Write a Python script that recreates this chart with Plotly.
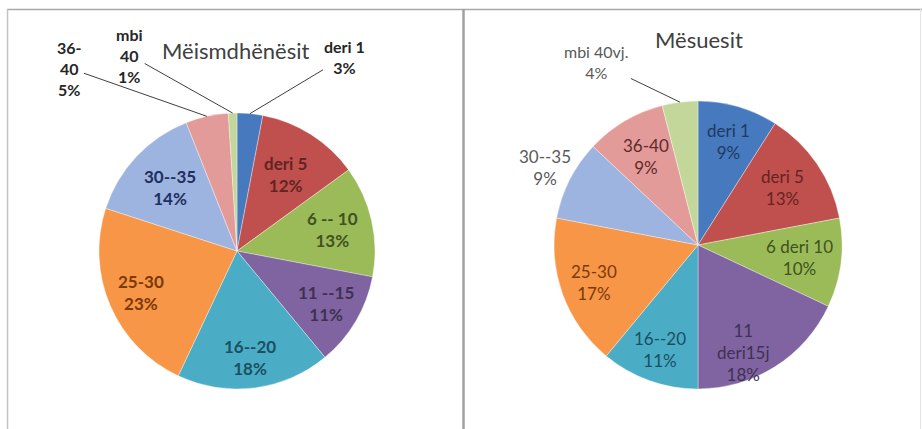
import math
import plotly.graph_objects as go

W, H = 922, 429

# ---------------- data ----------------
left_title = "Mëismdhënësit"
left_categories = ["deri 1", "deri 5", "6 -- 10", "11 --15", "16--20", "25-30", "30--35", "36-40", "mbi 40"]
left_display = ["deri 1", "deri 5", "6 -- 10", "11 --15", "16--20", "25-30", "30--35", "36-<br>40", "mbi<br>40"]
left_values = [3, 12, 13, 11, 18, 23, 14, 5, 1]

right_title = "Mësuesit"
right_categories = ["deri 1", "deri 5", "6 deri 10", "11 deri15j", "16--20", "25-30", "30--35", "36-40", "mbi 40vj."]
right_display = ["deri 1", "deri 5", "6 deri 10", "11<br>deri15j", "16--20", "25-30", "30--35", "36-40", "mbi 40vj."]
right_values = [9, 13, 10, 18, 11, 17, 9, 9, 4]

# ---------------- style ----------------
slice_colors = ["#4679BE", "#C0504D", "#9BBB59", "#8064A2", "#4BACC6",
                "#F79646", "#9DB4E0", "#E29B99", "#C4D79B"]
label_colors = ["#1F3A63", "#632423", "#3F5220", "#3F3151", "#1B5060",
                "#7A3A08", "#1F2F5F", "#5E2A29", "#3F5220"]
FONT = "Lato, Open Sans, sans-serif"

# geometry (pixels): center x, center y (from top), radius
L_GEOM = (237, 251, 138)
R_GEOM = (698, 245, 144)

# label radial fraction (None -> outside with leader line)
left_frac = [None, 0.66, 0.71, 0.75, 0.78, 0.76, 0.67, None, None]
right_frac = [0.75, 0.71, 0.71, 0.80, 0.77, 0.77, 1.19, 0.71, None]
# small label nudges (px)
left_nudge = {}
right_nudge = {3: (-16, 10)}
# outside label offsets (px) from slice edge point to text
left_lead = {0: (95, -57), 7: (-137, -48), 8: (-103, -58)}
right_lead = {8: (-83, -40)}
outside_color_left = "#262626"
outside_color_right = "#595959"


def domain(geom):
    cx, cy, r = geom
    return dict(x=[(cx - r) / W, (cx + r) / W],
                y=[(H - cy - r) / H, (H - cy + r) / H])


fig = go.Figure()
for vals, cats, geom in [(left_values, left_categories, L_GEOM),
                         (right_values, right_categories, R_GEOM)]:
    fig.add_trace(go.Pie(
        labels=cats, values=vals, sort=False, direction="clockwise", rotation=0,
        marker=dict(colors=slice_colors, line=dict(width=0.6, color="rgba(255,255,255,0.6)")),
        textinfo="none", hoverinfo="label+percent", showlegend=False,
        domain=domain(geom),
    ))

annotations = []


def add_labels(vals, disp, geom, fracs, nudges, leads, bold, out_color):
    cx, cy, r = geom
    total = sum(vals)
    cum = 0
    for i, v in enumerate(vals):
        theta = 2 * math.pi * (cum + v / 2) / total
        cum += v
        pct = round(100 * v / total)
        txt = f"{disp[i]}<br>{pct}%"
        if bold:
            txt = f"<b>{txt}</b>"
        if fracs[i] is not None:
            f = fracs[i]
            dx, dy = nudges.get(i, (0, 0))
            px = cx + f * r * math.sin(theta) + dx
            py = cy - f * r * math.cos(theta) + dy
            color = label_colors[i] if f <= 1 else out_color
            annotations.append(dict(
                x=px / W, y=(H - py) / H, xref="paper", yref="paper",
                xanchor="center", yanchor="middle",
                text=txt, showarrow=False, align="center",
                font=dict(family=FONT, size=17, color=color)))
        else:
            ex = cx + r * math.sin(theta)
            ey = cy - r * math.cos(theta)
            ax, ay = leads[i]
            annotations.append(dict(
                x=ex / W, y=(H - ey) / H, xref="paper", yref="paper",
                xanchor="center", yanchor="middle",
                text=txt, showarrow=True, arrowhead=0, arrowwidth=1,
                arrowcolor="#404040", ax=ax, ay=ay, standoff=0,
                align="center",
                font=dict(family=FONT, size=16, color=out_color)))


add_labels(left_values, left_display, L_GEOM, left_frac, left_nudge, left_lead, True, outside_color_left)
add_labels(right_values, right_display, R_GEOM, right_frac, right_nudge, right_lead, False, outside_color_right)

annotations.append(dict(x=236 / W, y=(H - 50) / H, xref="paper", yref="paper",
                        xanchor="center", yanchor="middle",
                        text=left_title, showarrow=False,
                        font=dict(family=FONT, size=22, color="#404040")))
annotations.append(dict(x=699 / W, y=(H - 40) / H, xref="paper", yref="paper",
                        xanchor="center", yanchor="middle",
                        text=right_title, showarrow=False,
                        font=dict(family=FONT, size=22, color="#404040")))

shapes = [
    dict(type="line", xref="paper", yref="paper", x0=7 / W, x1=1, y0=(H - 9.5) / H, y1=(H - 9.5) / H,
         line=dict(color="#A8A8A8", width=1.5)),
    dict(type="line", xref="paper", yref="paper", x0=7.5 / W, x1=7.5 / W, y0=0, y1=(H - 9) / H,
         line=dict(color="#C4C4C4", width=1.5)),
    dict(type="line", xref="paper", yref="paper", x0=463.5 / W, x1=463.5 / W, y0=0, y1=(H - 9) / H,
         line=dict(color="#A0A0A0", width=2.5)),
    dict(type="line", xref="paper", yref="paper", x0=920.5 / W, x1=920.5 / W, y0=0, y1=(H - 9) / H,
         line=dict(color="#E4E4E4", width=1)),
]

fig.update_layout(
    width=W, height=H, margin=dict(l=0, r=0, t=0, b=0),
    paper_bgcolor="white", plot_bgcolor="white",
    annotations=annotations, shapes=shapes,
)

fig.write_html("out.html", config={"displayModeBar": False},
               post_script="document.body.style.margin='0';document.body.style.overflow='hidden';")
